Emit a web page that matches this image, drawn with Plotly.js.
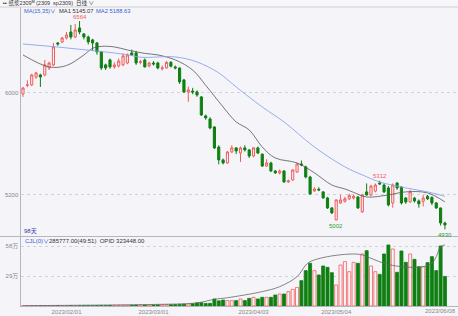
<!DOCTYPE html>
<html><head><meta charset="utf-8">
<script src="https://cdn.plot.ly/plotly-3.0.1.min.js"></script>
<style>html,body{margin:0;padding:0;background:#f5f5f9}#c{width:458px;height:316px}</style>
</head><body><div id="c"></div>
<script>
const dates = ["2023/01/11","2023/01/12","2023/01/13","2023/01/16","2023/01/17","2023/01/18","2023/01/19","2023/01/20","2023/01/30","2023/01/31",
"2023/02/01","2023/02/02","2023/02/03","2023/02/06","2023/02/07","2023/02/08","2023/02/09","2023/02/10","2023/02/13","2023/02/14","2023/02/15","2023/02/16","2023/02/17","2023/02/20","2023/02/21","2023/02/22","2023/02/23","2023/02/24","2023/02/27","2023/02/28",
"2023/03/01","2023/03/02","2023/03/03","2023/03/06","2023/03/07","2023/03/08","2023/03/09","2023/03/10","2023/03/13","2023/03/14","2023/03/15","2023/03/16","2023/03/17","2023/03/20","2023/03/21","2023/03/22","2023/03/23","2023/03/24","2023/03/27","2023/03/28","2023/03/29","2023/03/30","2023/03/31",
"2023/04/03","2023/04/04","2023/04/06","2023/04/07","2023/04/10","2023/04/11","2023/04/12","2023/04/13","2023/04/14","2023/04/17","2023/04/18","2023/04/19","2023/04/20","2023/04/21","2023/04/24","2023/04/25","2023/04/26","2023/04/27","2023/04/28",
"2023/05/04","2023/05/05","2023/05/08","2023/05/09","2023/05/10","2023/05/11","2023/05/12","2023/05/15","2023/05/16","2023/05/17","2023/05/18","2023/05/19","2023/05/22","2023/05/23","2023/05/24","2023/05/25","2023/05/26","2023/05/29","2023/05/30","2023/05/31",
"2023/06/01","2023/06/02","2023/06/05","2023/06/06","2023/06/07","2023/06/08"];

const open  = [5992,6060,6063,6125,6141,6141,6196,6220,6392,6400,6431,6478,6439,6510,6463,6439,6416,6392,6322,6220,6259,6204,6212,6220,6235,6314,6314,6240,6259,6212,6235,6235,6190,6196,6240,6204,6196,6102,6008,6015,6008,5969,5820,5796,5733,5576,5475,5451,5537,5569,5529,5569,5553,5506,5569,5520,5427,5451,5388,5373,5388,5302,5318,5380,5443,5420,5341,5231,5245,5224,5177,5098,5004,5137,5150,5170,5176,5184,5067,5224,5200,5230,5294,5278,5255,5137,5294,5262,5176,5145,5176,5153,5150,5190,5180,5137,5098,4980];
const high  = [6047,6100,6150,6165,6150,6259,6245,6392,6400,6440,6478,6533,6541,6564,6470,6450,6425,6400,6330,6230,6270,6240,6270,6310,6310,6340,6330,6260,6270,6245,6250,6245,6215,6250,6250,6215,6200,6110,6050,6040,6020,5975,5830,5810,5740,5590,5485,5545,5590,5575,5580,5590,5560,5575,5580,5525,5480,5460,5395,5400,5395,5320,5400,5450,5470,5430,5350,5260,5260,5230,5185,5105,5165,5200,5185,5210,5200,5190,5210,5290,5280,5290,5312,5290,5270,5290,5300,5270,5185,5240,5185,5165,5200,5200,5190,5145,5100,4990];
const low   = [5969,6045,6055,6110,6047,6130,6180,6210,6370,6390,6420,6420,6430,6460,6420,6380,6330,6300,6180,6180,6190,6190,6200,6210,6225,6290,6220,6225,6200,6200,6215,6185,6175,6190,6200,6185,6070,6000,5930,5990,5970,5820,5790,5715,5560,5440,5440,5445,5530,5520,5459,5540,5490,5495,5520,5420,5420,5380,5365,5360,5295,5295,5310,5375,5425,5330,5200,5225,5230,5170,5090,5050,5002,5130,5140,5160,5165,5090,5060,5195,5190,5220,5280,5215,5110,5100,5240,5125,5130,5140,5140,5100,5110,5160,5120,5090,4960,4930];
const close = [6039,6063,6141,6157,6125,6220,6235,6361,6384,6431,6455,6439,6494,6478,6439,6400,6392,6322,6196,6196,6204,6220,6250,6290,6298,6298,6235,6245,6204,6235,6227,6196,6196,6240,6210,6196,6086,6008,6024,6008,5984,5827,5804,5725,5569,5475,5451,5537,5569,5545,5569,5553,5506,5569,5529,5427,5451,5388,5373,5388,5302,5310,5396,5443,5435,5341,5208,5247,5239,5177,5098,5059,5161,5161,5170,5195,5190,5098,5200,5200,5270,5278,5286,5224,5122,5278,5255,5137,5145,5224,5153,5130,5176,5170,5137,5098,4980,4965];

// volume in 万
const volume = [0.2,0.2,0.3,0.2,0.2,0.3,0.2,0.3,0.2,0.2,
0.3,0.3,0.4,0.3,0.3,0.4,0.3,0.4,0.5,0.4,
0.5,0.5,0.6,0.6,0.7,0.8,0.9,1.0,0.9,1.0,
1.0,1.1,1.2,1.3,1.3,1.4,1.6,1.8,2.0,2.2,
3.0,3.2,2.5,2.6,6.8,5.0,5.8,5.2,
5.2,5.2,6.8,5.2,7.4,8.4,6.8,8.4,8.4,8.4,10.6,11.6,11.6,13.9,16.1,18,24.5,34.2,41.3,34.2,30,38.7,37.4,32.2,20.3,39.6,42.9,33.2,42.2,41.3,50.3,53.5,38.7,33.2,30.6,50.3,59,55.1,32.6,53.2,42.2,50.3,45.1,38,38,41.9,47.7,34.2,58,28.6];

// MA lines at sample dates
const ma1Dates = ["2023/01/11","2023/01/19","2023/02/01","2023/02/07","2023/02/09","2023/02/13","2023/02/16","2023/02/21","2023/02/27","2023/03/02","2023/03/08","2023/03/14","2023/03/17","2023/03/23","2023/03/28","2023/03/31","2023/04/06","2023/04/11","2023/04/18","2023/04/24","2023/04/28","2023/05/08","2023/05/10","2023/05/15","2023/05/22","2023/05/26","2023/06/02","2023/06/08"];
const ma1 = [6298,6204,6215,6298,6350,6365,6361,6337,6310,6298,6259,6180,6060,5890,5773,5710,5576,5490,5451,5373,5278,5247,5220,5184,5200,5224,5216,5145.07];
const ma2Dates = ["2023/01/11","2023/02/01","2023/02/21","2023/02/24","2023/03/08","2023/03/15","2023/03/22","2023/03/28","2023/04/06","2023/04/13","2023/04/24","2023/05/08","2023/05/12","2023/05/18","2023/05/26","2023/06/02","2023/06/08"];
const ma2 = [6384,6353,6300,6280,6282,6243,6157,6047,5890,5773,5576,5420,5357,5302,5255,5224,5188.63];

// open interest (万) read at sample dates
const oiDates = ["2023/01/11","2023/02/15","2023/03/01","2023/03/15","2023/03/21","2023/03/24","2023/04/06","2023/04/12","2023/04/18","2023/04/20","2023/04/21","2023/04/27","2023/05/10","2023/05/12","2023/05/16","2023/05/19","2023/05/25","2023/06/01","2023/06/05","2023/06/06","2023/06/07","2023/06/08"];
const oi = [0.3,1.0,1.5,3.0,6.5,8,13.9,18.7,28.4,39.6,42.9,47.7,50.3,49.3,46.1,41.3,38,38,41.3,47.7,57.4,59];

const tickDates = ["2023/02/01","2023/03/01","2023/04/03","2023/05/04"];
const lastTick = "2023/06/08";

const RED = '#f25c5c', GREEN = '#0f7f12', BG = '#f5f5f9';
const up = close.map((c,i)=> c >= open[i]);

const W=458,H=316,L=21,R=0,T=7,B=10;
const pw=W-L-R, ph=H-T-B;
const px = x => (x-L)/pw, py = y => (H-B-y)/ph;

const font = {family:'Liberation Sans, DejaVu Sans, Noto Sans CJK SC', size:6, color:'#777'};
const cjk = 'Liberation Sans, Noto Sans CJK SC, DejaVu Sans';

const traces = [
 {type:'candlestick', x:dates, open:open, high:high, low:low, close:close, xaxis:'x', yaxis:'y',
  increasing:{line:{color:RED,width:1}, fillcolor:BG}, decreasing:{line:{color:GREEN,width:1}, fillcolor:GREEN},
  whiskerwidth:0, hoverinfo:'skip'},
 {type:'scatter', mode:'lines', x:ma1Dates, y:ma1, line:{color:'#555',width:0.8,shape:'spline'}, xaxis:'x', yaxis:'y', hoverinfo:'skip'},
 {type:'scatter', mode:'lines', x:ma2Dates, y:ma2, line:{color:'#8aa4ee',width:0.9,shape:'spline'}, xaxis:'x', yaxis:'y', hoverinfo:'skip'},
 {type:'bar', x:dates, y:volume, xaxis:'x', yaxis:'y2', width:0.7,
  marker:{color:up.map(u=>u?BG:GREEN), line:{color:up.map(u=>u?RED:GREEN), width:0.8}}, hoverinfo:'skip'},
 {type:'scatter', mode:'lines', x:oiDates, y:oi, line:{color:'#666',width:0.8,shape:'spline'}, xaxis:'x', yaxis:'y2', hoverinfo:'skip'}
];

const ann = [];
function txt(x,y,text,color,size,anchor,family){
  ann.push({xref:'paper',yref:'paper',x:px(x),y:py(y),text:text,showarrow:false,
    xanchor:anchor||'left',yanchor:'middle',font:{family:family||cjk,size:size||6,color:color}});
}
txt(1,3,'▪▪ 纸浆2309ᴹ (2309  sp2309)  日线 ∨','#333',5.5);
txt(22,11,'MA(15,35)∨','#3a5fd0',5.6);
txt(57,11,'MA1 5145.07','#333',5.8);
txt(94,11,'MA2 5188.63','#3a5fd0',5.8);
txt(22,232,'98天','#3333aa',6);
txt(23,241,'CJL(0)∨','#3a5fd0',6);
txt(47,241,'285777.00(49:51)  OPID 323448.00','#333',6);
txt(457.5,311,lastTick,'#888',6,'right');

function mark(d,v,text,color,shift){
  ann.push({xref:'x',yref:'y',x:d,y:v,text:text,showarrow:false,yshift:shift,
    font:{family:'Liberation Sans, DejaVu Sans',size:6,color:color}});
}
mark('2023/02/06',6564,'6564',RED,4);
mark('2023/05/04',5002,'5002','#2e9a2e',-6);
mark('2023/05/18',5312,'5312',RED,5);
mark('2023/06/08',4930,'4930','#2e9a2e',-6);

const shapes = [
 {type:'line',xref:'paper',yref:'paper',x0:px(0),x1:px(458),y0:py(7),y1:py(7),line:{color:'#cfcfd6',width:1}},
 {type:'line',xref:'paper',yref:'paper',x0:px(0),x1:px(458),y0:py(236.5),y1:py(236.5),line:{color:'#b5b5bd',width:1}},
 {type:'rect',xref:'paper',yref:'paper',x0:px(0),x1:px(458),y0:py(0),y1:py(6.5),fillcolor:'#f7f7fa',line:{width:0},layer:'below'}
];

const layout = {
  width:W,height:H,margin:{l:L,r:R,t:T,b:B},
  paper_bgcolor:BG, plot_bgcolor:BG, showlegend:false, font:font,
  xaxis:{type:'category', categoryorder:'array', categoryarray:dates, anchor:'y2',
    range:[-0.46,100.0], rangeslider:{visible:false}, showgrid:false, zeroline:false,
    tickmode:'array', tickvals:tickDates, ticktext:tickDates, ticks:'', tickfont:{size:6,color:'#888'},
    showline:true, linecolor:'#b5b5bd', linewidth:1},
  yaxis:{domain:[py(236),1], range:[4878,6674], tickmode:'array', tickvals:[5200,6000], ticktext:['5200','6000'],
    showgrid:true, gridcolor:'#d2d2d8', griddash:'dot', gridwidth:1, zeroline:false,
    showline:true, linecolor:'#b5b5bd', linewidth:1.5, ticks:'', tickfont:{size:6,color:'#888'}},
  yaxis2:{domain:[0,py(237)], range:[0,66.7], tickmode:'array', tickvals:[29,58], ticktext:['29万','58万'],
    showgrid:true, gridcolor:'#d2d2d8', griddash:'dot', gridwidth:1, zeroline:false,
    showline:true, linecolor:'#b5b5bd', linewidth:1.5, ticks:'', tickfont:{size:6,color:'#888',family:cjk}},
  bargap:0.3, annotations:ann, shapes:shapes, hovermode:false
};
Plotly.newPlot('c', traces, layout, {staticPlot:true, displayModeBar:false});
</script></body></html>
